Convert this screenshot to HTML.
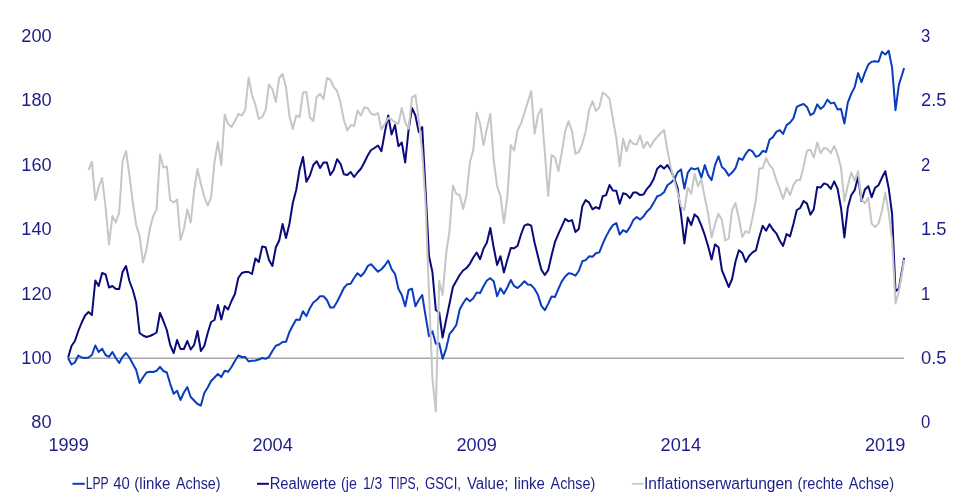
<!DOCTYPE html>
<html lang="de"><head><meta charset="utf-8"><title>Chart</title>
<style>
html,body{margin:0;padding:0;background:#fff;}
body{width:960px;height:503px;overflow:hidden;position:relative;}
svg{position:absolute;left:0;top:0;display:block;will-change:transform;}
text{font-family:"Liberation Sans",sans-serif;fill:#1e1e88;}
.ax{font-size:18px;}
.lg{font-size:16px;}
polyline{fill:none;stroke-width:2;stroke-linejoin:round;stroke-linecap:butt;}
</style></head><body>
<svg width="960" height="503" viewBox="0 0 960 503">
<rect width="960" height="503" fill="#fff"/>
<clipPath id="c"><rect x="60" y="0" width="860" height="503"/></clipPath>
<line x1="68" y1="358.3" x2="904" y2="358.3" stroke="#a8a8a8" stroke-width="1.5"/>
<g clip-path="url(#c)">
<polyline stroke="#0a3cbe" points="68.1,358.0 71.5,364.5 74.9,362.5 78.3,355.5 81.7,357.5 85.1,358.0 88.5,357.5 91.9,355.0 95.3,345.5 98.7,352.0 102.1,348.8 105.6,355.0 109.0,356.8 112.4,352.0 115.8,358.0 119.2,363.0 122.6,356.8 126.0,353.0 129.4,357.5 132.8,363.8 136.2,370.0 139.6,383.0 143.0,377.5 146.4,372.5 149.8,371.8 153.2,372.0 156.6,370.8 160.0,366.8 163.4,371.0 166.8,372.5 170.2,383.8 173.7,393.8 177.1,390.8 180.5,400.0 183.9,392.5 187.3,387.0 190.7,397.0 194.1,400.5 197.5,404.0 200.9,405.5 204.3,393.0 207.7,387.5 211.1,381.0 214.5,377.5 217.9,374.0 221.3,377.0 224.7,370.8 228.1,371.8 231.5,367.0 234.9,361.0 238.3,355.5 241.8,357.0 245.2,357.0 248.6,361.5 252.0,360.8 255.4,360.5 258.8,359.5 262.2,358.0 265.6,358.8 269.0,357.0 272.4,351.0 275.8,345.8 279.2,344.5 282.6,342.0 286.0,341.8 289.4,332.0 292.8,325.5 296.2,319.5 299.6,320.0 303.0,311.2 306.4,316.2 309.9,308.2 313.3,302.5 316.7,300.0 320.1,296.2 323.5,296.2 326.9,300.0 330.3,307.5 333.7,307.5 337.1,301.8 340.5,295.0 343.9,288.0 347.3,284.2 350.7,283.8 354.1,278.0 357.5,273.2 360.9,276.2 364.3,272.5 367.7,266.2 371.1,264.2 374.5,268.0 378.0,271.8 381.4,269.2 384.8,265.5 388.2,260.5 391.6,269.2 395.0,273.8 398.4,288.8 401.8,295.0 405.2,306.2 408.6,290.0 412.0,288.8 415.4,306.2 418.8,300.0 422.2,295.0 425.6,316.2 429.0,336.2 432.4,331.2 435.8,343.8 439.2,343.2 442.6,358.8 446.1,348.8 449.5,334.2 452.9,330.0 456.3,325.0 459.7,309.5 463.1,303.2 466.5,298.2 469.9,301.2 473.3,298.2 476.7,292.5 480.1,293.0 483.5,286.2 486.9,280.5 490.3,278.2 493.7,281.2 497.1,296.2 500.5,288.2 503.9,293.8 507.3,287.5 510.8,280.0 514.2,286.2 517.6,288.0 521.0,285.0 524.4,281.2 527.8,284.5 531.2,285.1 534.6,288.9 538.0,295.1 541.4,305.9 544.8,310.2 548.2,303.9 551.6,296.4 555.0,296.9 558.4,288.9 561.8,281.4 565.2,276.5 568.6,273.3 572.0,273.8 575.4,275.6 578.8,271.0 582.3,261.3 585.7,260.1 589.1,256.3 592.5,256.8 595.9,253.3 599.3,252.4 602.7,243.8 606.1,236.4 609.5,230.1 612.9,225.1 616.3,223.1 619.7,234.6 623.1,230.1 626.5,232.1 629.9,227.1 633.3,220.1 636.7,217.1 640.1,219.4 643.5,216.4 647.0,211.4 650.4,208.3 653.8,202.6 657.2,196.3 660.6,195.1 664.0,192.3 667.4,185.3 670.8,182.8 674.2,179.6 677.6,172.3 681.0,169.4 684.4,188.5 687.8,172.6 691.2,168.1 694.6,169.4 698.0,168.1 701.4,177.6 704.8,165.1 708.2,175.1 711.6,180.1 715.0,165.1 718.5,156.4 721.9,167.0 725.3,170.1 728.7,175.6 732.1,172.6 735.5,168.2 738.9,158.1 742.3,159.9 745.7,153.9 749.1,149.7 752.5,151.4 755.9,156.8 759.3,155.3 762.7,150.9 766.1,152.0 769.5,139.8 772.9,137.1 776.3,131.9 779.7,130.1 783.1,133.9 786.6,125.1 790.0,122.6 793.4,118.4 796.8,106.9 800.2,105.2 803.6,103.9 807.0,106.9 810.4,115.2 813.8,113.2 817.2,104.4 820.6,108.9 824.0,105.9 827.4,99.6 830.8,103.4 834.2,102.6 837.6,109.4 841.0,108.9 844.4,123.5 847.8,102.6 851.2,93.9 854.7,87.1 858.1,73.1 861.5,82.1 864.9,72.6 868.3,64.6 871.7,61.8 875.1,61.3 878.5,61.8 881.9,51.8 885.3,54.5 888.7,50.8 892.1,67.6 895.5,110.2 898.9,84.6 902.3,74.0 904.1,68.1"/>
<polyline stroke="#0a0a7a" points="68.1,357.5 71.5,346.0 74.9,341.0 78.3,331.0 81.7,322.5 85.1,315.5 88.5,312.0 91.9,315.0 95.3,280.5 98.7,286.0 102.1,273.0 105.6,274.5 109.0,287.5 112.4,286.0 115.8,289.0 119.2,289.0 122.6,272.0 126.0,266.0 129.4,281.0 132.8,290.0 136.2,302.5 139.6,333.0 143.0,335.5 146.4,337.0 149.8,336.0 153.2,334.5 156.6,332.5 160.0,313.0 163.4,321.0 166.8,330.0 170.2,345.0 173.7,353.0 177.1,340.0 180.5,349.0 183.9,349.0 187.3,341.0 190.7,349.5 194.1,345.0 197.5,331.0 200.9,351.0 204.3,346.0 207.7,333.0 211.1,322.0 214.5,320.0 217.9,305.0 221.3,319.5 224.7,306.0 228.1,309.5 231.5,301.0 234.9,294.0 238.3,278.0 241.8,273.0 245.2,272.0 248.6,272.0 252.0,274.0 255.4,258.5 258.8,262.0 262.2,246.5 265.6,247.2 269.0,260.0 272.4,266.0 275.8,247.5 279.2,240.5 282.6,224.0 286.0,238.0 289.4,224.0 292.8,203.0 296.2,190.0 299.6,169.5 303.0,157.0 306.4,181.8 309.9,175.5 313.3,165.0 316.7,161.2 320.1,168.0 323.5,162.5 326.9,162.5 330.3,175.0 333.7,170.0 337.1,159.2 340.5,163.8 343.9,174.2 347.3,175.0 350.7,172.0 354.1,177.0 357.5,172.5 360.9,168.8 364.3,162.5 367.7,155.5 371.1,150.0 374.5,148.0 378.0,145.5 381.4,151.2 384.8,132.5 388.2,115.5 391.6,134.5 395.0,125.0 398.4,146.2 401.8,142.5 405.2,162.5 408.6,129.5 412.0,108.0 415.4,115.5 418.8,132.0 422.2,127.0 425.6,191.0 429.0,256.0 432.4,272.0 435.8,310.0 439.2,312.5 442.6,337.5 446.1,320.0 449.5,303.8 452.9,287.0 456.3,281.0 459.7,275.0 463.1,270.5 466.5,268.0 469.9,263.8 473.3,257.5 476.7,252.5 480.1,259.2 483.5,248.8 486.9,242.5 490.3,228.0 493.7,247.5 497.1,265.0 500.5,256.2 503.9,272.5 507.3,260.0 510.8,248.0 514.2,248.2 517.6,245.8 521.0,234.5 524.4,225.6 527.8,224.3 531.2,225.6 534.6,242.7 538.0,256.4 541.4,269.7 544.8,275.0 548.2,270.2 551.6,255.2 555.0,241.9 558.4,233.9 561.8,226.4 565.2,218.9 568.6,221.4 572.0,220.1 575.4,232.1 578.8,228.9 582.3,206.3 585.7,200.1 589.1,202.6 592.5,209.3 595.9,207.1 599.3,208.8 602.7,196.3 606.1,195.1 609.5,185.0 612.9,190.6 616.3,190.8 619.7,203.8 623.1,193.3 626.5,194.3 629.9,198.1 633.3,192.6 636.7,192.6 640.1,195.1 643.5,194.6 647.0,188.8 650.4,185.0 653.8,178.8 657.2,168.8 660.6,165.5 664.0,168.6 667.4,165.0 670.8,170.4 674.2,178.0 677.6,188.0 681.0,213.9 684.4,243.4 687.8,217.6 691.2,225.1 694.6,214.4 698.0,217.6 701.4,225.6 704.8,235.2 708.2,246.4 711.6,259.5 715.0,244.4 718.5,247.2 721.9,270.2 725.3,278.5 728.7,287.0 732.1,279.0 735.5,261.5 738.9,250.2 742.3,253.0 745.7,262.0 749.1,256.0 752.5,252.4 755.9,250.4 759.3,237.0 762.7,225.8 766.1,230.8 769.5,224.2 772.9,229.5 776.3,233.3 779.7,240.5 783.1,246.0 786.6,234.0 790.0,236.4 793.4,224.0 796.8,210.0 800.2,208.0 803.6,201.0 807.0,203.6 810.4,214.6 813.8,209.2 817.2,187.1 820.6,187.6 824.0,183.4 827.4,184.6 830.8,188.9 834.2,181.4 837.6,188.9 841.0,207.7 844.4,237.4 847.8,207.7 851.2,195.2 854.7,190.1 858.1,177.0 861.5,201.0 864.9,189.5 868.3,186.2 871.7,197.2 875.1,187.7 878.5,185.2 881.9,177.8 885.3,171.2 888.7,188.2 892.1,214.0 895.5,291.2 898.9,288.5 902.3,269.0 904.1,258.0"/>
<polyline stroke="#c6c6c6" points="88.5,170.0 91.9,162.0 95.3,200.0 98.7,187.5 102.1,178.0 105.6,207.5 109.0,244.5 112.4,216.0 115.8,222.5 119.2,212.5 122.6,161.0 126.0,151.0 129.4,175.0 132.8,202.5 136.2,225.0 139.6,236.0 143.0,262.5 146.4,250.0 149.8,229.0 153.2,216.0 156.6,209.5 160.0,154.5 163.4,167.5 166.8,166.5 170.2,200.0 173.7,202.5 177.1,199.5 180.5,240.0 183.9,229.0 187.3,209.5 190.7,222.5 194.1,191.0 197.5,169.0 200.9,184.0 204.3,197.0 207.7,205.5 211.1,197.5 214.5,162.0 217.9,142.0 221.3,165.0 224.7,114.5 228.1,124.0 231.5,127.0 234.9,121.0 238.3,114.0 241.8,115.5 245.2,110.0 248.6,77.5 252.0,95.0 255.4,105.0 258.8,119.0 262.2,117.0 265.6,110.0 269.0,84.5 272.4,89.0 275.8,102.0 279.2,78.0 282.6,74.0 286.0,87.5 289.4,116.0 292.8,129.0 296.2,115.5 299.6,117.0 303.0,92.5 306.4,92.0 309.9,117.5 313.3,121.0 316.7,97.0 320.1,93.8 323.5,99.0 326.9,78.0 330.3,79.5 333.7,87.0 337.1,91.0 340.5,102.5 343.9,120.0 347.3,130.5 350.7,125.0 354.1,126.0 357.5,110.5 360.9,115.5 364.3,107.5 367.7,108.0 371.1,113.8 374.5,115.0 378.0,113.0 381.4,129.5 384.8,123.8 388.2,118.0 391.6,119.5 395.0,122.5 398.4,123.8 401.8,108.0 405.2,122.5 408.6,128.8 412.0,97.5 415.4,95.0 418.8,120.0 422.2,152.0 425.6,205.0 429.0,293.0 432.4,378.0 435.8,411.5 439.2,281.0 442.6,295.0 446.1,254.0 449.5,231.0 452.9,185.5 456.3,194.0 459.7,195.0 463.1,209.0 466.5,195.0 469.9,162.5 473.3,150.0 476.7,112.5 480.1,123.8 483.5,145.0 486.9,128.8 490.3,113.8 493.7,160.0 497.1,186.0 500.5,196.0 503.9,223.0 507.3,197.5 510.8,145.0 514.2,150.5 517.6,130.0 521.0,123.8 524.4,113.0 527.8,102.0 531.2,91.2 534.6,133.8 538.0,115.0 541.4,108.8 544.8,152.5 548.2,195.8 551.6,155.0 555.0,157.5 558.4,171.2 561.8,152.5 565.2,130.8 568.6,121.2 572.0,131.2 575.4,153.8 578.8,152.0 582.3,143.8 585.7,131.2 589.1,110.0 592.5,101.2 595.9,110.8 599.3,107.5 602.7,92.5 606.1,95.0 609.5,98.8 612.9,118.8 616.3,138.0 619.7,166.2 623.1,138.8 626.5,151.2 629.9,140.0 633.3,143.8 636.7,144.5 640.1,135.5 643.5,148.0 647.0,141.8 650.4,147.0 653.8,140.8 657.2,137.0 660.6,133.0 664.0,130.0 667.4,150.0 670.8,167.5 674.2,180.0 677.6,192.6 681.0,206.3 684.4,210.1 687.8,187.6 691.2,193.8 694.6,173.8 698.0,186.3 701.4,179.5 704.8,197.6 708.2,213.9 711.6,237.7 715.0,223.9 718.5,213.9 721.9,220.1 725.3,240.5 728.7,238.5 732.1,210.0 735.5,203.0 738.9,218.5 742.3,237.0 745.7,231.0 749.1,233.0 752.5,217.5 755.9,200.0 759.3,168.5 762.7,168.3 766.1,158.1 769.5,165.1 772.9,168.8 776.3,180.1 779.7,188.9 783.1,198.9 786.6,187.6 790.0,195.2 793.4,185.1 796.8,180.1 800.2,180.1 803.6,166.3 807.0,150.8 810.4,149.6 813.8,157.6 817.2,142.5 820.6,153.1 824.0,148.1 827.4,148.8 830.8,153.1 834.2,145.8 837.6,154.6 841.0,167.6 844.4,201.4 847.8,185.4 851.2,172.4 854.7,180.9 858.1,171.2 861.5,199.8 864.9,203.2 868.3,197.7 871.7,223.6 875.1,227.1 878.5,223.6 881.9,211.0 885.3,192.6 888.7,212.5 892.1,240.0 895.5,303.4 898.9,291.0 902.3,272.0 904.1,259.5"/>
</g>
<text class="ax" x="51.6" y="42" text-anchor="end" textLength="30.3" lengthAdjust="spacingAndGlyphs">200</text>
<text class="ax" x="51.6" y="106" text-anchor="end" textLength="30.3" lengthAdjust="spacingAndGlyphs">180</text>
<text class="ax" x="51.6" y="171" text-anchor="end" textLength="30.3" lengthAdjust="spacingAndGlyphs">160</text>
<text class="ax" x="51.6" y="235" text-anchor="end" textLength="30.3" lengthAdjust="spacingAndGlyphs">140</text>
<text class="ax" x="51.6" y="300" text-anchor="end" textLength="30.3" lengthAdjust="spacingAndGlyphs">120</text>
<text class="ax" x="51.6" y="364" text-anchor="end" textLength="30.3" lengthAdjust="spacingAndGlyphs">100</text>
<text class="ax" x="51.6" y="428" text-anchor="end" textLength="20.3" lengthAdjust="spacingAndGlyphs">80</text>
<text class="ax" x="920.9" y="42" textLength="9.3" lengthAdjust="spacingAndGlyphs">3</text>
<text class="ax" x="920.9" y="106" textLength="25.6" lengthAdjust="spacingAndGlyphs">2.5</text>
<text class="ax" x="920.9" y="171" textLength="9.3" lengthAdjust="spacingAndGlyphs">2</text>
<text class="ax" x="920.9" y="235" textLength="25.6" lengthAdjust="spacingAndGlyphs">1.5</text>
<text class="ax" x="920.9" y="300" textLength="9.3" lengthAdjust="spacingAndGlyphs">1</text>
<text class="ax" x="920.9" y="364" textLength="25.6" lengthAdjust="spacingAndGlyphs">0.5</text>
<text class="ax" x="920.9" y="428" textLength="9.3" lengthAdjust="spacingAndGlyphs">0</text>
<text class="ax" x="68.6" y="451.2" text-anchor="middle" textLength="40.4" lengthAdjust="spacingAndGlyphs">1999</text>
<text class="ax" x="272.6" y="451.2" text-anchor="middle" textLength="40.4" lengthAdjust="spacingAndGlyphs">2004</text>
<text class="ax" x="476.7" y="451.2" text-anchor="middle" textLength="40.4" lengthAdjust="spacingAndGlyphs">2009</text>
<text class="ax" x="680.8" y="451.2" text-anchor="middle" textLength="40.4" lengthAdjust="spacingAndGlyphs">2014</text>
<text class="ax" x="885.2" y="451.2" text-anchor="middle" textLength="40.4" lengthAdjust="spacingAndGlyphs">2019</text>
<line x1="72.5" y1="483.8" x2="84.8" y2="483.8" stroke="#0a3cbe" stroke-width="2"/>
<line x1="257" y1="483.8" x2="268.9" y2="483.8" stroke="#0a0a7a" stroke-width="2"/>
<line x1="631.9" y1="483.8" x2="643.6" y2="483.8" stroke="#c6c6c6" stroke-width="1.6"/>
<text class="lg" x="85.74" y="488.7" textLength="22.97" lengthAdjust="spacingAndGlyphs">LPP</text>
<text class="lg" x="113.2" y="488.7" textLength="16.51" lengthAdjust="spacingAndGlyphs">40</text>
<text class="lg" x="134.31" y="488.7" textLength="36.0" lengthAdjust="spacingAndGlyphs">(linke</text>
<text class="lg" x="176.0" y="488.7" textLength="44.49" lengthAdjust="spacingAndGlyphs">Achse)</text>
<text class="lg" x="269.68" y="488.7" textLength="66.48" lengthAdjust="spacingAndGlyphs">Realwerte</text>
<text class="lg" x="341.01" y="488.7" textLength="15.8" lengthAdjust="spacingAndGlyphs">(je</text>
<text class="lg" x="362.88" y="488.7" textLength="19.28" lengthAdjust="spacingAndGlyphs">1/3</text>
<text class="lg" x="388.75" y="488.7" textLength="30.34" lengthAdjust="spacingAndGlyphs">TIPS,</text>
<text class="lg" x="425.0" y="488.7" textLength="35.97" lengthAdjust="spacingAndGlyphs">GSCI,</text>
<text class="lg" x="466.9" y="488.7" textLength="41.62" lengthAdjust="spacingAndGlyphs">Value;</text>
<text class="lg" x="514.06" y="488.7" textLength="30.84" lengthAdjust="spacingAndGlyphs">linke</text>
<text class="lg" x="550.6" y="488.7" textLength="44.69" lengthAdjust="spacingAndGlyphs">Achse)</text>
<text class="lg" x="644.03" y="488.7" textLength="148.75" lengthAdjust="spacingAndGlyphs">Inflationserwartungen</text>
<text class="lg" x="797.59" y="488.7" textLength="45.42" lengthAdjust="spacingAndGlyphs">(rechte</text>
<text class="lg" x="848.75" y="488.7" textLength="45.3" lengthAdjust="spacingAndGlyphs">Achse)</text>
</svg>
</body></html>
